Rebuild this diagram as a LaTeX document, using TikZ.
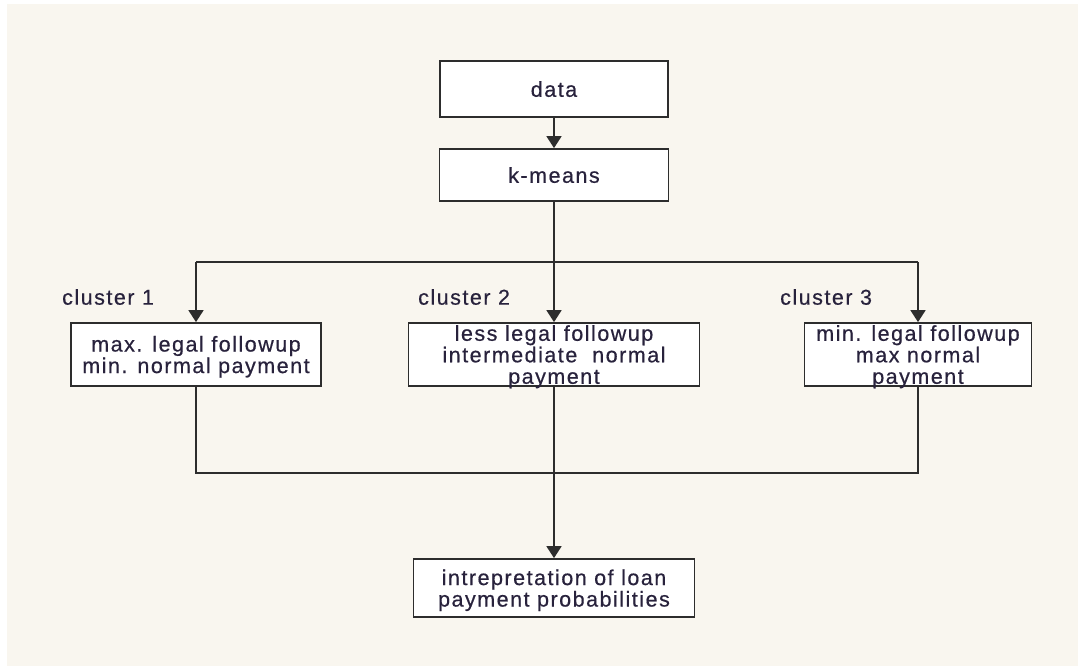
\documentclass[tikz,border=0pt]{standalone}
\usepackage{fontspec}
\newfontfamily\labfont[LetterSpace=7,FakeBold=0.5]{Liberation Sans}
\usetikzlibrary{arrows.meta}
\definecolor{bgpaper}{RGB}{249,246,239}
\definecolor{inkc}{RGB}{40,34,60}
\definecolor{linec}{RGB}{45,45,45}
\tikzset{
  box/.style={draw=linec, line width=1.8pt, fill=white, inner sep=0pt, align=center,
    text depth=0pt, font=\labfont\fontsize{21.5}{21.5}\selectfont, text=inkc},
  lbl/.style={inner sep=0pt, anchor=west, font=\labfont\fontsize{21.5}{21.5}\selectfont, text=inkc},
  conn/.style={draw=linec, line width=1.8pt},
  arr/.style={conn, -{Triangle[width=15pt,length=12pt]}}
}
\begin{document}
\begin{tikzpicture}[x=1pt,y=-1pt]
\useasboundingbox (0,0) rectangle (1078,666);
\fill[white] (0,0) rectangle (1078,666);
\fill[bgpaper] (7,4) rectangle (1078,666);

\node[box, minimum width=228pt, minimum height=56pt] (data) at (554,89) {data};
\node[box, minimum width=229pt, minimum height=52pt] (km) at (554,175) {k-means};

\node[box, minimum width=250pt, minimum height=63pt] (c1) at (196,354.5) {max. legal followup\\min. normal payment};
\node[box, minimum width=291pt, minimum height=63pt] (c2) at (554,354.5) {less legal followup\\intermediate \ normal\\payment};
\node[box, minimum width=227pt, minimum height=63pt] (c3) at (918,354.5) {min. legal followup\\max normal\\payment};

\node[box, minimum width=281pt, minimum height=58pt] (res) at (554,588) {intrepretation of loan\\payment probabilities};

\node[lbl] (l1) at (62,297) {cluster 1};
\node[lbl] (l2) at (418,297) {cluster 2};
\node[lbl] (l3) at (780,297) {cluster 3};

\coordinate (jt) at (554,262);
\coordinate (jt1) at (196,262);
\coordinate (jt3) at (918,262);
\coordinate (jb) at (554,473);
\coordinate (jb1) at (196,473);
\coordinate (jb3) at (918,473);

\draw[arr] (data) -- (km);
\draw[conn] (km.south) -- (jt);
\draw[conn] (jt1) -- (jt3);
\draw[arr] (jt1) -- (c1.north);
\draw[arr] (jt) -- (c2.north);
\draw[arr] (jt3) -- (c3.north);

\draw[conn] (c1.south) -- (jb1) -- (jb3) -- (c3.south);
\draw[arr] (c2.south) -- (res.north);
\end{tikzpicture}
\end{document}
